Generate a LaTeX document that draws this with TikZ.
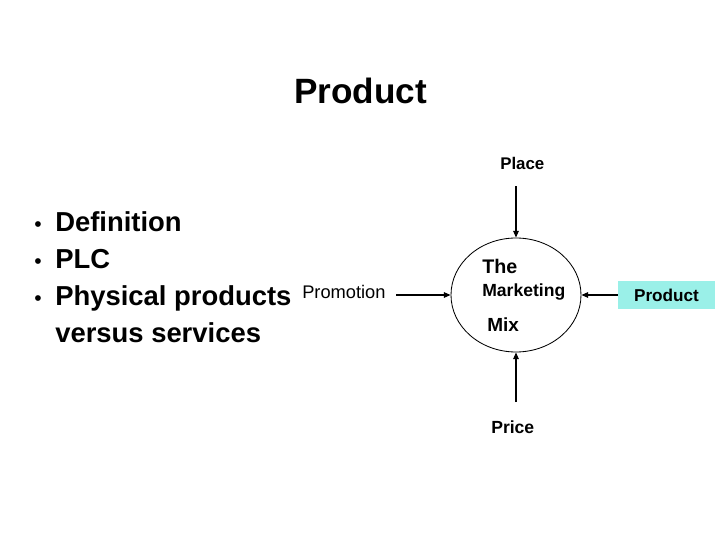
\documentclass[tikz,border=0pt]{standalone}
\usepackage{fontspec}
\setmainfont{Liberation Sans}
\usetikzlibrary{arrows.meta,positioning,shapes.geometric}
\usepackage{xcolor}
\definecolor{mmCyan}{HTML}{9AF0E8}
\newcommand{\mmitem}{\makebox[5.5mm][l]{\hspace*{0.3mm}{\mdseries\fontsize{15}{15}\selectfont\textbullet}}}

\begin{document}
\begin{tikzpicture}[x=0.25mm, y=-0.25mm,
  lbl/.style={inner sep=0pt, anchor=base west, font=\fontsize{12.5}{15}\selectfont\bfseries},
  arr/.style={-{Triangle[length=1.7mm, width=1.4mm]}, line width=0.9pt},
  mixring/.style={ellipse, draw, line width=0.6pt, minimum width=32.5mm, minimum height=28.5mm, inner sep=0pt},
  prodbox/.style={fill=mmCyan, minimum width=24.25mm, minimum height=7mm, inner sep=0pt, font=\fontsize{12.2}{14}\selectfont\bfseries}]
\fill[white] (0,0) rectangle (720,540);
\useasboundingbox (0,0) rectangle (720,540);

\node[lbl, font=\fontsize{25}{30}\selectfont\bfseries] (title) at (294,103) {Product};

% topic list on the left (base = last line)
\node[lbl, align=left, font=\fontsize{19.5}{26.1}\selectfont\bfseries] (topics) at (33,342)
  {\mmitem Definition\\ \mmitem PLC\\ \mmitem Physical products\\ \hspace*{5.5mm}versus services};

% the four P's round the mix
\node[mixring] (mix) at (516,295) {};
\node[lbl, font=\fontsize{14}{16}\selectfont\bfseries] (the) at (482,273) {The};
\node[lbl] (mkt) at (482,296) {Marketing};
\node[lbl, font=\fontsize{13.5}{16}\selectfont\bfseries] (mixtxt) at (487,331) {Mix};

\node[lbl, font=\fontsize{12}{14}\selectfont\bfseries] (place) at (500,169) {Place};
\node[lbl] (price) at (491,433) {Price};
\node[lbl, font=\fontsize{13}{15}\selectfont] (promo) at (302,298) {Promotion};
\node[prodbox] (prod) at (666.5,295) {Product};

\coordinate (placeTail) at (516,186);
\coordinate (priceTail) at (516,402);
\coordinate (promoTail) at (396,295);

\draw[arr] (placeTail) -- (mix.north);
\draw[arr] (priceTail) -- (mix.south);
\draw[arr] (promoTail) -- (mix.west);
\draw[arr] (prod.west) -- (mix.east);
\end{tikzpicture}
\end{document}
